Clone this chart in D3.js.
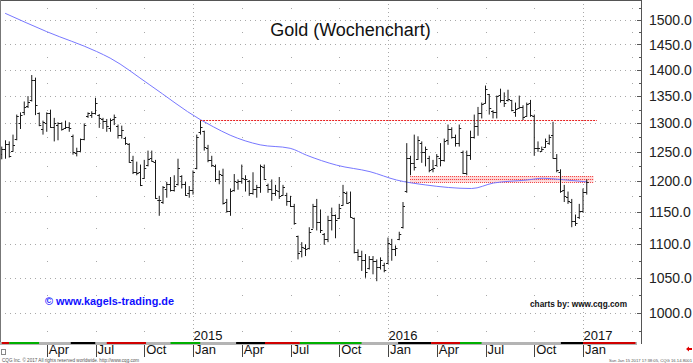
<!DOCTYPE html>
<html>
<head>
<meta charset="utf-8">
<script src="https://cdn.jsdelivr.net/npm/d3@7"></script>
<style>
html, body { margin: 0; padding: 0; background: #fff; }
svg { display: block; font-family: "Liberation Sans", Arial, sans-serif; }
</style>
</head>
<body>
<div id="chart"></div>
<script>
// Gold Wochenchart, ein Balken pro Woche ab 13.01.2014 (Index 0) bis 09.01.2017 (Index 156)
const highs = [1259,1270,1268,1280,1316,1320,1340,1350,1390,1385,1320,1305,1320,1325,1310,1302,1302,1305,1302,1280,
  1257,1273,1300,1320,1322,1347,1317,1310,1308,1309,1316,1298,1296,1276,1265,1243,1233,1228,1236,1252,
  1252,1236,1176,1192,1199,1207,1210,1238,1210,1199,1192,1218,1280,1305,1287,1262,1243,1228,1218,1221,
  1171,1188,1212,1203,1228,1210,1202,1215,1194,1228,1228,1196,1203,1194,1207,1194,1181,1176,1163,1113,
  1103,1100,1126,1163,1171,1154,1117,1144,1157,1146,1163,1194,1183,1183,1141,1092,1090,1085,1082,1082,
  1077,1080,1072,1110,1108,1098,1119,1166,1265,1243,1280,1277,1268,1259,1243,1236,1246,1265,1273,1298,
  1293,1280,1298,1252,1252,1287,1316,1330,1338,1370,1354,1324,1351,1364,1357,1362,1343,1338,1351,1333,
  1338,1343,1316,1268,1259,1273,1280,1303,1246,1220,1194,1183,1171,1146,1163,1188,1203];
const lows = [1237,1238,1240,1250,1270,1290,1315,1328,1340,1315,1295,1280,1285,1292,1268,1270,1287,1290,1285,1245,
  1242,1250,1270,1310,1310,1316,1292,1290,1285,1285,1297,1273,1273,1262,1231,1212,1210,1192,1204,1225,
  1233,1171,1144,1163,1173,1183,1183,1193,1188,1176,1173,1178,1220,1280,1252,1232,1224,1199,1195,1162,
  1149,1144,1183,1186,1196,1183,1176,1178,1173,1181,1202,1181,1168,1176,1171,1176,1160,1158,1130,1077,
  1080,1082,1092,1124,1121,1117,1099,1103,1121,1109,1139,1160,1163,1141,1086,1075,1060,1050,1062,1055,
  1045,1062,1058,1070,1075,1082,1106,1124,1181,1210,1218,1236,1231,1225,1215,1215,1225,1225,1233,1262,
  1273,1259,1259,1212,1210,1236,1273,1278,1309,1336,1316,1309,1309,1338,1330,1340,1322,1312,1327,1306,
  1312,1312,1243,1250,1250,1257,1262,1238,1215,1181,1166,1163,1126,1128,1139,1149,1178];
const opens = [1246,1254,1264,1252,1272,1300,1320,1332,1342,1380,1318,1290,1300,1318,1294,1298,1300,1291,1294,1278,
  1248,1252,1272,1314,1316,1318,1315,1308,1304,1292,1308,1296,1280,1274,1264,1236,1215,1216,1205,1228,
  1240,1232,1170,1166,1188,1196,1186,1196,1208,1196,1180,1186,1222,1284,1286,1256,1236,1226,1204,1210,
  1166,1152,1186,1198,1200,1204,1200,1180,1188,1190,1224,1194,1188,1180,1184,1178,1178,1168,1160,1112,
  1090,1094,1094,1124,1160,1134,1116,1108,1138,1146,1140,1162,1180,1166,1140,1088,1082,1076,1064,1078,
  1074,1066,1068,1072,1100,1092,1108,1126,1184,1240,1230,1238,1266,1250,1240,1220,1228,1240,1236,1270,
  1290,1276,1265,1250,1214,1244,1276,1296,1318,1338,1354,1322,1320,1352,1342,1342,1342,1320,1328,1330,
  1314,1338,1314,1256,1252,1258,1266,1280,1240,1216,1186,1174,1166,1136,1142,1152,1182];
const closes = [1254,1264,1242,1262,1314,1316,1330,1340,1380,1334,1298,1302,1318,1294,1300,1300,1290,1294,1292,1250,
  1252,1272,1298,1318,1318,1338,1310,1304,1295,1306,1312,1280,1288,1266,1232,1216,1214,1194,1222,1238,
  1234,1172,1170,1190,1196,1185,1192,1222,1196,1178,1186,1216,1276,1294,1258,1236,1228,1204,1212,1165,
  1152,1184,1200,1200,1206,1204,1180,1188,1190,1225,1204,1188,1180,1186,1176,1190,1168,1160,1132,1086,
  1096,1092,1118,1160,1134,1122,1108,1138,1146,1138,1156,1182,1164,1142,1088,1082,1076,1058,1078,1074,
  1066,1076,1062,1102,1092,1094,1116,1160,1240,1230,1224,1270,1250,1254,1218,1222,1242,1235,1268,1290,
  1276,1265,1292,1214,1244,1276,1296,1318,1335,1364,1328,1320,1350,1342,1338,1345,1324,1326,1330,1312,
  1336,1316,1256,1256,1255,1268,1276,1240,1218,1184,1175,1168,1136,1132,1152,1182,1198];

const maWeeks = [0.9, 12, 25.3, 28.9, 39.5, 52.9, 56.4, 60.9, 68.9, 76.9, 81.3, 89.3, 98.2, 105.3, 112.9, 125.3, 131.1, 140, 144.4, 148.9, 156];
const maValues = [1514, 1476, 1436, 1423, 1371, 1307, 1294, 1279, 1262, 1256, 1244, 1227, 1216, 1202, 1194, 1188, 1197, 1202, 1205, 1203, 1199];

// Widerstand und Zone
const resistanceLevel = 1307;
const resistanceFrom = 52.9, resistanceTo = 158.7;
const zoneLow = 1199, zoneHigh = 1208;
const zoneFrom = 108.9, zoneTo = 157.8;

// Achsen
const priceTicks = [1000, 1050, 1100, 1150, 1200, 1250, 1300, 1350, 1400, 1450, 1500];
const quarterWeeks = [12, 25, 38, 51, 64, 77, 90, 103, 116, 129, 142, 155, 168];
const quarterLabels = ["Apr", "Jul", "Oct", "Jan", "Apr", "Jul", "Oct", "Jan", "Apr", "Jul", "Oct", "Jan", ""];
const yearWeeks = [51, 103, 155];
const yearLabels = ["2015", "2016", "2017"];

// farbiges Band unter dem Chart
const bandFrom = [0, 2, 10, 18.4, 25, 28, 38.5, 45, 53, 62.5, 70.2, 79.5, 96, 105.7, 114.5, 122.2, 128, 149.1, 155];
const bandTo = [2, 10, 18.4, 25, 28, 38.5, 45, 53, 62.5, 70.2, 79.5, 96, 105.7, 114.5, 122.2, 128, 149.1, 155, 169];
const bandColor = ["#d00000", "#00b000", "#b4b4b4", "#000000", "#b4b4b4", "#d00000", "#b4b4b4", "#00b000", "#b4b4b4", "#000000",
  "#d00000", "#00b000", "#b4b4b4", "#000000", "#d00000", "#00b000", "#b4b4b4", "#000000", "#d00000"];

const width = 693, height = 363;
const plotRight = 641, plotBottom = 342;

const svg = d3.select("#chart").append("svg")
    .attr("width", width)
    .attr("height", height);

const x = d3.scaleLinear().domain([0, 156]).range([1.75, 586.75]);
const y = d3.scaleLog().domain([1000, 1500]).range([313, 20]);
const py = v => Math.round(y(v)) + 0.5;

svg.append("clipPath").attr("id", "plot")
  .append("rect").attr("x", 0).attr("y", 0).attr("width", plotRight).attr("height", plotBottom);

const g = svg.append("g").attr("clip-path", "url(#plot)");

// horizontale Gitterlinien
g.selectAll(".hgrid").data(priceTicks).enter().append("line")
    .attr("x1", 0).attr("x2", plotRight)
    .attr("y1", d => py(d)).attr("y2", d => py(d))
    .attr("stroke", "#a8a8a8").attr("stroke-dasharray", "1,4");

// Punkte der Quartalslinien auf halben Niveaus
const halfLevels = d3.range(975, 1550, 50);
const quarterOnly = quarterWeeks.filter(w => !yearWeeks.includes(w));
quarterOnly.forEach(w => {
    g.selectAll(null).data(halfLevels).enter().append("rect")
        .attr("x", Math.round(x(w))).attr("y", d => Math.round(y(d)))
        .attr("width", 1).attr("height", 1)
        .attr("fill", "#a8a8a8");
});

// Jahreslinien
g.selectAll(".ygrid").data(yearWeeks).enter().append("line")
    .attr("x1", d => Math.round(x(d)) + 0.5).attr("x2", d => Math.round(x(d)) + 0.5)
    .attr("y1", 0).attr("y2", plotBottom)
    .attr("stroke", "#a8a8a8").attr("stroke-dasharray", "1,3");

// Zone 1200
const zone = g.append("g");
zone.append("rect")
    .attr("x", x(zoneFrom)).attr("y", y(zoneHigh))
    .attr("width", x(zoneTo) - x(zoneFrom)).attr("height", y(zoneLow) - y(zoneHigh))
    .attr("fill", "#ffd8d8");
[zoneHigh, (zoneHigh + zoneLow) / 2, zoneLow].forEach(v => {
    zone.append("line")
        .attr("x1", x(zoneFrom)).attr("x2", x(zoneTo))
        .attr("y1", py(v)).attr("y2", py(v))
        .attr("stroke", "#f03030").attr("stroke-dasharray", "1,1");
});

// gleitender Durchschnitt
const maLine = d3.line()
    .x(d => x(d[0]))
    .y(d => y(d[1]))
    .curve(d3.curveMonotoneX);
g.append("path")
    .datum(maWeeks.map((w, i) => [w, maValues[i]]))
    .attr("d", maLine)
    .attr("fill", "none")
    .attr("stroke", "#7878ff")
    .attr("stroke-width", 1);

// Widerstandslinie
g.append("line")
    .attr("x1", x(resistanceFrom)).attr("x2", x(resistanceTo))
    .attr("y1", py(resistanceLevel)).attr("y2", py(resistanceLevel))
    .attr("stroke", "#e82020").attr("stroke-dasharray", "2,1");

// OHLC Balken
const rows = highs.map((h, i) => ({i: i, h: h, l: lows[i], o: opens[i], c: closes[i]}));
const bar = g.selectAll(".bar").data(rows).enter().append("g").attr("class", "bar");
bar.append("line")
    .attr("x1", d => x(d.i)).attr("x2", d => x(d.i))
    .attr("y1", d => y(d.h)).attr("y2", d => y(d.l))
    .attr("stroke", "#1a1a1a");
bar.append("line")
    .attr("x1", d => x(d.i) - 2).attr("x2", d => x(d.i))
    .attr("y1", d => py(d.o)).attr("y2", d => py(d.o))
    .attr("stroke", "#1a1a1a");
bar.append("line")
    .attr("x1", d => x(d.i)).attr("x2", d => x(d.i) + 2)
    .attr("y1", d => py(d.c)).attr("y2", d => py(d.c))
    .attr("stroke", "#1a1a1a");

// Rahmen
svg.append("line").attr("x1", 0).attr("x2", plotRight + 1).attr("y1", 0.5).attr("y2", 0.5).attr("stroke", "#555");
svg.append("line").attr("x1", 0.5).attr("x2", 0.5).attr("y1", 0).attr("y2", plotBottom).attr("stroke", "#777");
svg.append("line").attr("x1", plotRight + 0.5).attr("x2", plotRight + 0.5).attr("y1", 0).attr("y2", plotBottom + 2).attr("stroke", "#555");

// rechte Preisachse
svg.selectAll(".ptick").data(priceTicks).enter().append("line")
    .attr("x1", plotRight - 4).attr("x2", plotRight)
    .attr("y1", d => py(d)).attr("y2", d => py(d))
    .attr("stroke", "#555");
svg.selectAll(".pminor").data(halfLevels).enter().append("line")
    .attr("x1", plotRight - 2).attr("x2", plotRight)
    .attr("y1", d => py(d)).attr("y2", d => py(d))
    .attr("stroke", "#555");
svg.selectAll(".plabel").data(priceTicks).enter().append("text")
    .attr("x", 649).attr("y", d => y(d))
    .attr("dy", "0.36em")
    .attr("font-size", 14)
    .attr("fill", "#222")
    .text(d => d3.format(".1f")(d));

// Titel
svg.append("text")
    .attr("x", 350.5).attr("y", 36)
    .attr("text-anchor", "middle")
    .attr("font-size", 18)
    .attr("fill", "#111")
    .text("Gold (Wochenchart)");

svg.append("text")
    .attr("x", 45).attr("y", 305)
    .attr("font-size", 11).attr("font-weight", "bold")
    .attr("fill", "#1010ff")
    .attr("textLength", 129).attr("lengthAdjust", "spacingAndGlyphs")
    .text("\u00a9 www.kagels-trading.de");

svg.append("text")
    .attr("x", 530).attr("y", 307)
    .attr("font-size", 9).attr("font-weight", "bold")
    .attr("fill", "#111")
    .attr("textLength", 97).attr("lengthAdjust", "spacingAndGlyphs")
    .text("charts by: www.cqg.com");

// Jahreszahlen
svg.selectAll(".year").data(yearWeeks).enter().append("text")
    .attr("x", d => x(d) + 0.5).attr("y", 339.5)
    .attr("font-size", 13)
    .attr("fill", "#111")
    .text((d, i) => yearLabels[i]);

// Band
svg.append("rect").attr("x", 0).attr("y", plotBottom).attr("width", plotRight - 4).attr("height", 3).attr("fill", "#b4b4b4");
svg.selectAll(".band").data(bandFrom).enter().append("rect")
    .attr("x", d => Math.max(0, x(d)))
    .attr("y", plotBottom)
    .attr("width", (d, i) => Math.min(plotRight - 4, x(bandTo[i])) - Math.max(0, x(d)))
    .attr("height", 2)
    .attr("fill", (d, i) => bandColor[i]);

// Monatsachse
const qt = quarterWeeks.filter((w, i) => quarterLabels[i] !== "");
svg.selectAll(".qtick").data(qt).enter().append("line")
    .attr("x1", d => Math.round(x(d)) + 0.5).attr("x2", d => Math.round(x(d)) + 0.5)
    .attr("y1", plotBottom + 3).attr("y2", 357)
    .attr("stroke", "#444");
svg.selectAll(".qlabel").data(qt).enter().append("text")
    .attr("x", d => x(d) + 2).attr("y", 354)
    .attr("font-size", 13)
    .attr("fill", "#111")
    .text((d, i) => quarterLabels[i]);

// Kleinkram unten
svg.append("rect").attr("x", 1.5).attr("y", 349.5).attr("width", 4).attr("height", 5)
    .attr("fill", "none").attr("stroke", "#888");
svg.append("path").attr("d", "M686,349 L689,346.5 L689,348 L692,348 L692,350 L689,350 L689,351.5 Z")
    .attr("fill", "#e00000");
svg.append("text").attr("x", 2).attr("y", 361.5)
    .attr("font-size", 4.6).attr("fill", "#555")
    .text("CQG Inc. \u00a9 2017 All rights reserved worldwide. http://www.cqg.com");
svg.append("text").attr("x", 692).attr("y", 361.5)
    .attr("font-size", 4.2).attr("fill", "#555").attr("text-anchor", "end")
    .text("Sun Jan 15 2017 17:38:05, CQG 16.14.8001");
</script>
</body>
</html>
